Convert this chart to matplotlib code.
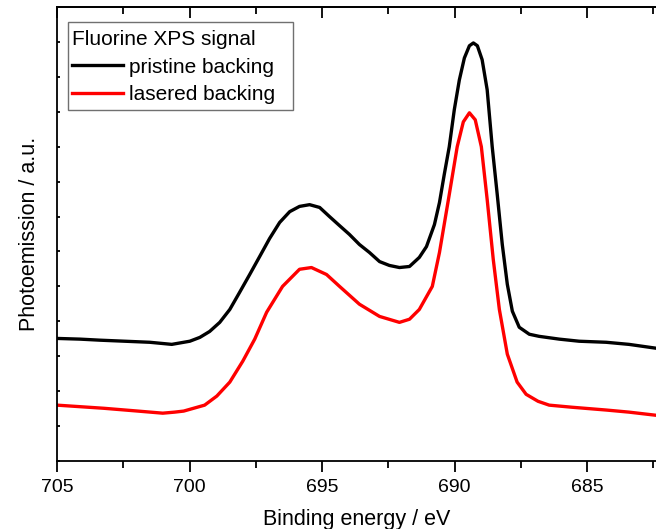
import matplotlib
matplotlib.use("Agg")
import matplotlib.pyplot as plt
from matplotlib.patches import Rectangle
from matplotlib.ticker import MultipleLocator

plt.rcParams['font.family'] = ['Liberation Sans', 'DejaVu Sans']

# binding energy (eV) and photoemission (a.u.)
energy_pristine = [705.00, 704.13, 703.38, 702.44, 701.50, 700.67, 699.99, 699.61, 699.24,
                   698.86, 698.48, 698.11, 697.73, 697.35, 696.98, 696.60, 696.22, 695.85,
                   695.47, 695.09, 694.72, 694.34, 693.97, 693.59, 693.21, 692.83, 692.46,
                   692.08, 691.70, 691.33, 691.06, 690.76, 690.57, 690.39, 690.20, 690.01,
                   689.82, 689.63, 689.44, 689.29, 689.14, 688.96, 688.77, 688.58, 688.39,
                   688.20, 688.01, 687.82, 687.56, 687.18, 686.81, 686.05, 685.30, 684.28,
                   683.42, 682.40]
signal_pristine = [3.51, 3.49, 3.46, 3.43, 3.40, 3.34, 3.43, 3.54, 3.71,
                   3.97, 4.34, 4.83, 5.34, 5.86, 6.37, 6.83, 7.14, 7.29,
                   7.34, 7.26, 7.00, 6.74, 6.49, 6.20, 5.97, 5.71, 5.60,
                   5.54, 5.57, 5.83, 6.14, 6.77, 7.40, 8.20, 9.00, 10.06,
                   10.91, 11.54, 11.89, 11.97, 11.89, 11.49, 10.63, 9.00, 7.63,
                   6.20, 5.06, 4.29, 3.83, 3.63, 3.57, 3.49, 3.43, 3.40,
                   3.34, 3.23]

energy_lasered = [705.00, 703.23, 701.95, 701.01, 700.56, 700.22, 699.43, 698.97, 698.48,
                  697.99, 697.54, 697.09, 696.49, 695.85, 695.40, 694.83, 694.34, 693.59,
                  692.83, 692.08, 691.70, 691.33, 690.84, 690.57, 690.20, 689.90, 689.67,
                  689.44, 689.22, 688.99, 688.77, 688.54, 688.31, 688.01, 687.64, 687.30,
                  686.85, 686.43, 685.57, 684.28, 683.42, 682.40]
signal_lasered = [1.60, 1.51, 1.43, 1.37, 1.40, 1.43, 1.60, 1.86, 2.26,
                  2.86, 3.49, 4.26, 5.00, 5.49, 5.54, 5.34, 5.00, 4.49,
                  4.14, 3.97, 4.06, 4.34, 5.00, 5.97, 7.63, 9.00, 9.71,
                  9.97, 9.77, 9.00, 7.49, 5.77, 4.34, 3.06, 2.26, 1.91,
                  1.71, 1.60, 1.54, 1.46, 1.40, 1.31]

fig = plt.figure(figsize=(6.56, 5.29), dpi=100)
ax = fig.add_axes([0.0869, 0.1285, 0.9131, 0.8583])

ax.plot(energy_pristine, signal_pristine, color="black", lw=2.4, label="pristine backing")
ax.plot(energy_lasered, signal_lasered, color="red", lw=2.4, label="lasered backing")

ax.set_xlim(705, 682.4)
ax.set_ylim(0, 13)
ax.spines["right"].set_visible(False)
for s in ["left", "bottom", "top"]:
  ax.spines[s].set_linewidth(1.3)

ax.xaxis.set_major_locator(MultipleLocator(5))
ax.xaxis.set_minor_locator(MultipleLocator(2.5))
ax.yaxis.set_major_locator(MultipleLocator(1))
ax.tick_params(axis="x", which="major", direction="out", length=8, width=1.3, labelsize=14, pad=5, top=False)
ax.tick_params(axis="x", which="minor", direction="out", length=5, width=1.3, top=False)
ax.tick_params(axis="y", which="major", direction="in", length=2.5, width=1.3, labelleft=False)

# mirrored ticks on top, pointing inward
top = ax.secondary_xaxis("top")
top.xaxis.set_major_locator(MultipleLocator(5))
top.xaxis.set_minor_locator(MultipleLocator(2.5))
top.tick_params(which="major", direction="in", length=8, width=1.3, labeltop=False)
top.tick_params(which="minor", direction="in", length=5, width=1.3)
top.spines["top"].set_linewidth(1.3)

ax.set_xlabel("Binding energy / eV", fontsize=15.5, labelpad=9)
ax.set_ylabel("Photoemission / a.u.", fontsize=15.5, labelpad=12)

# legend frame is a bit wider than its content in the original
ax.add_patch(Rectangle((0.0184, 0.773), 0.3756, 0.194, transform=ax.transAxes,
                       fill=True, facecolor="white", edgecolor="#707070", lw=1.0, zorder=4))
leg = ax.legend(title="Fluorine XPS signal", loc="upper left", bbox_to_anchor=(0.012, 0.967),
                fontsize=15, title_fontsize=15, frameon=False,
                handlelength=2.45, handletextpad=0.3, borderpad=0.38,
                labelspacing=0.42, alignment="left", borderaxespad=0)
leg.set_zorder(5)

fig.savefig("out.png", dpi=100)
